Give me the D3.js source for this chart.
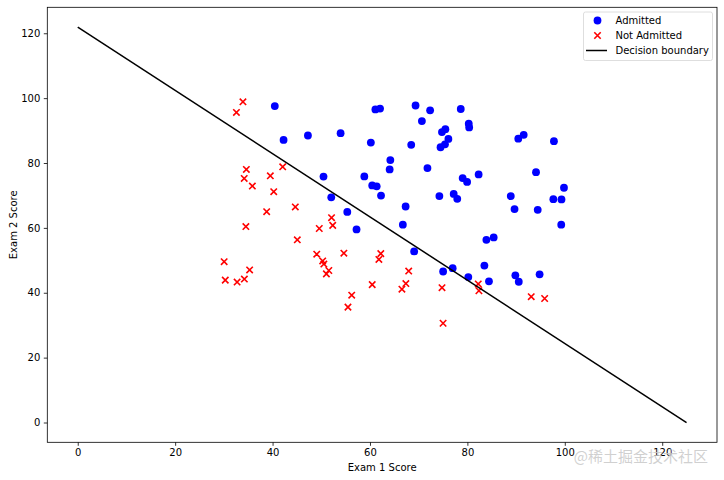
<!DOCTYPE html>
<html><head><meta charset="utf-8">
<script src="https://cdn.jsdelivr.net/npm/d3@7"></script>
<style>body{margin:0;background:#fff}svg{display:block}</style>
</head><body>
<script>
// Exam scores (Exam 1, Exam 2, admitted 1/0)
const exam1 = [34.62,30.29,35.85,60.18,79.03,45.08,61.11,75.02,76.10,84.43,95.86,75.01,82.31,69.36,39.54,53.97,69.07,67.95,70.66,76.98,67.37,89.68,50.53,34.21,77.92,62.27,80.19,93.11,61.83,38.79,61.38,85.40,52.11,52.05,40.24,54.64,33.92,64.18,74.79,34.18,83.90,51.55,94.44,82.37,51.05,62.22,77.19,97.77,62.07,91.56,79.94,99.27,90.55,34.52,50.29,49.59,97.65,32.58,74.25,71.80,75.40,35.29,56.25,30.06,44.67,66.56,40.46,49.07,80.28,66.75,32.72,64.04,72.35,60.46,58.84,99.83,47.26,50.46,60.46,82.23,88.91,94.83,67.32,57.24,80.37,68.47,42.08,75.48,78.64,52.35,94.09,90.45,55.48,74.49,89.85,83.49,42.26,99.32,55.34,74.78];
const exam2 = [78.02,43.89,72.90,86.31,75.34,56.32,96.51,46.55,87.42,43.53,38.23,30.60,76.48,97.72,76.04,89.21,52.74,46.68,92.93,47.58,42.84,65.80,48.86,44.21,68.97,69.95,44.82,38.80,50.26,65.00,72.81,57.05,63.13,69.43,71.17,52.21,98.87,80.91,41.57,75.24,56.31,46.86,65.57,40.62,45.82,52.06,70.46,86.73,96.77,88.70,74.16,61.00,43.39,60.40,49.80,59.81,68.86,95.60,69.82,78.45,85.76,47.02,39.26,49.59,66.45,41.09,97.54,51.88,92.12,60.99,43.31,78.03,96.23,73.09,75.86,72.37,88.48,75.81,42.51,42.72,69.80,45.69,66.59,59.51,90.96,85.59,78.84,90.42,96.65,60.77,77.16,87.51,35.57,84.85,45.36,48.38,87.10,68.78,64.93,89.53];
const admitted = [0,0,0,1,1,0,1,1,1,1,0,0,1,1,0,1,1,0,1,1,0,1,0,0,1,1,1,0,0,0,1,1,0,1,0,0,0,1,0,0,1,0,1,0,0,0,1,1,1,1,1,1,1,0,0,0,1,0,1,1,1,0,0,0,0,0,1,0,1,1,0,1,1,1,1,1,1,1,0,0,1,1,1,1,1,1,0,1,1,0,1,1,0,1,1,1,1,1,1,1];
const boundaryX = [0, 125];
const boundaryY = [121.9, 0];
const xTicks = [0,20,40,60,80,100,120];
const yTicks = [0,20,40,60,80,100,120];
const legendLabels = ["Admitted","Not Admitted","Decision boundary"];

const W = 724, H = 480;
const L = 47.3, R = 717, T = 7.3, B = 442.3;
const svg = d3.select("body").append("svg").attr("width", W).attr("height", H)
  .style("font-family", "'DejaVu Sans', sans-serif");

const x = d3.scaleLinear().domain([-6.25, 131.25]).range([L, R]);
const y = d3.scaleLinear().domain([-6.1, 128.0]).range([B, T]);

const pts = exam1.map((v, i) => ({x: v, y: exam2[i], a: admitted[i]}));

// Scatter
const g = svg.append("g");
g.selectAll("circle.adm").data(pts.filter(d => d.a === 1)).join("circle")
  .attr("class","adm").attr("cx", d => x(d.x)).attr("cy", d => y(d.y)).attr("r", 3.9)
  .attr("fill", "#0000ff");
const cs = 3.2;
g.selectAll("path.not").data(pts.filter(d => d.a === 0)).join("path")
  .attr("class","not")
  .attr("d", d => { const cx = x(d.x), cy = y(d.y);
    return `M${cx-cs},${cy-cs}L${cx+cs},${cy+cs}M${cx-cs},${cy+cs}L${cx+cs},${cy-cs}`; })
  .attr("stroke", "#ff0000").attr("stroke-width", 1.6).attr("fill", "none");

// Boundary
const line = d3.line().x(d => x(d[0])).y(d => y(d[1]));
svg.append("path").datum(boundaryX.map((v, i) => [v, boundaryY[i]]))
  .attr("d", line).attr("stroke", "#000").attr("stroke-width", 1.5).attr("fill", "none");

// Axes
const xAxis = d3.axisBottom(x).tickValues(xTicks).tickSize(3.5).tickPadding(3.5).tickFormat(d3.format("d"));
const yAxis = d3.axisLeft(y).tickValues(yTicks).tickSize(3.5).tickPadding(3.5).tickFormat(d3.format("d"));
const gx = svg.append("g").attr("transform", `translate(0,${B})`).call(xAxis);
const gy = svg.append("g").attr("transform", `translate(${L},0)`).call(yAxis);
[gx, gy].forEach(a => {
  a.select(".domain").remove();
  a.selectAll("text").attr("font-size", 10).attr("fill", "#000").attr("font-family", "'DejaVu Sans', sans-serif");
  a.selectAll("line").attr("stroke", "#000").attr("stroke-width", 0.8);
});
svg.append("rect").attr("x", L).attr("y", T).attr("width", R - L).attr("height", B - T)
  .attr("fill", "none").attr("stroke", "#000").attr("stroke-width", 0.8);

svg.append("text").attr("x", (L + R) / 2).attr("y", 470.5).attr("text-anchor", "middle")
  .attr("font-size", 10).text("Exam 1 Score");
svg.append("text").attr("transform", `translate(16.5,${(T + B) / 2}) rotate(-90)`)
  .attr("text-anchor", "middle").attr("font-size", 10).text("Exam 2 Score");

// Legend
const lg = svg.append("g");
lg.append("rect").attr("x", 583.5).attr("y", 12).attr("width", 129).attr("height", 48.5).attr("rx", 2)
  .attr("fill", "#fff").attr("fill-opacity", 0.8).attr("stroke", "#d5d5d5").attr("stroke-width", 0.8);
const ly = [20.5, 35.5, 50.5];
lg.append("circle").attr("cx", 597.5).attr("cy", ly[0]).attr("r", 3.9).attr("fill", "#0000ff");
lg.append("path").attr("d", `M${597.5-cs},${ly[1]-cs}L${597.5+cs},${ly[1]+cs}M${597.5-cs},${ly[1]+cs}L${597.5+cs},${ly[1]-cs}`)
  .attr("stroke", "#ff0000").attr("stroke-width", 1.6);
lg.append("line").attr("x1", 586).attr("x2", 607).attr("y1", ly[2]).attr("y2", ly[2])
  .attr("stroke", "#000").attr("stroke-width", 1.5);
lg.selectAll("text").data(legendLabels).join("text")
  .attr("x", 615.5).attr("y", (d, i) => ly[i] + 3.6).attr("font-size", 10).text(d => d);

// Watermark
svg.append("text").attr("x", 708).attr("y", 462).attr("text-anchor", "end")
  .attr("font-size", 15).attr("fill", "#c8c8c8").attr("fill-opacity", 0.85)
  .attr("font-family", "'Noto Sans CJK SC', sans-serif").text("@稀土掘金技术社区");
</script>
</body></html>
